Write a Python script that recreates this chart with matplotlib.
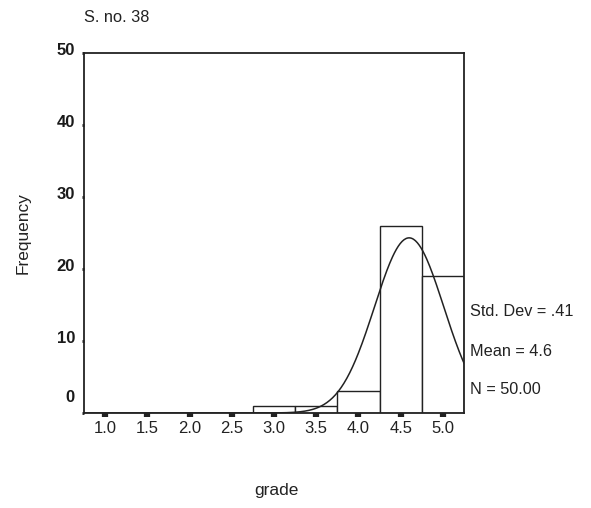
import numpy as np
import matplotlib
matplotlib.use("Agg")
import matplotlib.pyplot as plt
from matplotlib.transforms import ScaledTranslation

# Data
bin_centers = [3.0, 3.5, 4.0, 4.5, 5.0]
frequencies = [1, 1, 3, 26, 19]
bin_width = 0.5
mean_val = 4.6
std_dev = 0.41
n_total = 50
x_ticks = [1.0, 1.5, 2.0, 2.5, 3.0, 3.5, 4.0, 4.5, 5.0]
x_tick_labels = ["1.0", "1.5", "2.0", "2.5", "3.0", "3.5", "4.0", "4.5", "5.0"]
y_ticks = [0, 10, 20, 30, 40, 50]
stats_lines = ["Std. Dev = .41", "Mean = 4.6", "N = 50.00"]

plt.rcParams['font.family'] = ['Liberation Sans', 'DejaVu Sans']

fig = plt.figure(figsize=(5.91, 5.08), dpi=100)
ax = fig.add_axes([84/591, 1-413/508, (464-84)/591, (413-53)/508])

ax.bar(bin_centers, frequencies, width=bin_width, facecolor='white',
       edgecolor='#222222', linewidth=1.0, zorder=2)

xs = np.linspace(0.75, 5.25, 400)
ys = n_total * bin_width / (std_dev * np.sqrt(2 * np.pi)) * np.exp(-0.5 * ((xs - mean_val) / std_dev) ** 2)
ax.plot(xs, ys, color='#222222', linewidth=1.1, zorder=3)

ax.set_xlim(0.75, 5.25)
ax.set_ylim(0, 50)
ax.set_xticks(x_ticks)
ax.set_xticklabels(x_tick_labels)
ax.set_yticks(y_ticks)

for s in ax.spines.values():
    s.set_linewidth(1.3)
    s.set_color('#222222')

ax.tick_params(axis='x', direction='out', length=3, width=4.5, pad=3,
               labelsize=12, colors='#222222')
ax.tick_params(axis='y', direction='out', length=1.5, width=2.0, pad=5,
               labelsize=12, colors='#1a1a1a')

for lbl in ax.get_yticklabels():
    lbl.set_transform(lbl.get_transform() + ScaledTranslation(0, 3/72, fig.dpi_scale_trans))
    lbl.set_fontweight('semibold')
lbl0 = ax.get_yticklabels()[0]
lbl0.set_transform(lbl0.get_transform() + ScaledTranslation(0, 9/72, fig.dpi_scale_trans))

fig.text(84/591, 1-17/508, "S. no. 38", fontsize=11.8, ha='left', va='center', color='#222222')
fig.text(23/591, 1-233/508, "Frequency", fontsize=12.4, rotation=90, ha='center', va='center', color='#222222')
fig.text(276/591, 1-491/508, "grade", fontsize=12.5, ha='center', va='center', color='#222222')

for txt, yp in zip(stats_lines, [312, 351, 389]):
    fig.text(470/591, 1-yp/508, txt, fontsize=11.7, ha='left', va='center', color='#222222')

fig.savefig("out.png", dpi=100)
